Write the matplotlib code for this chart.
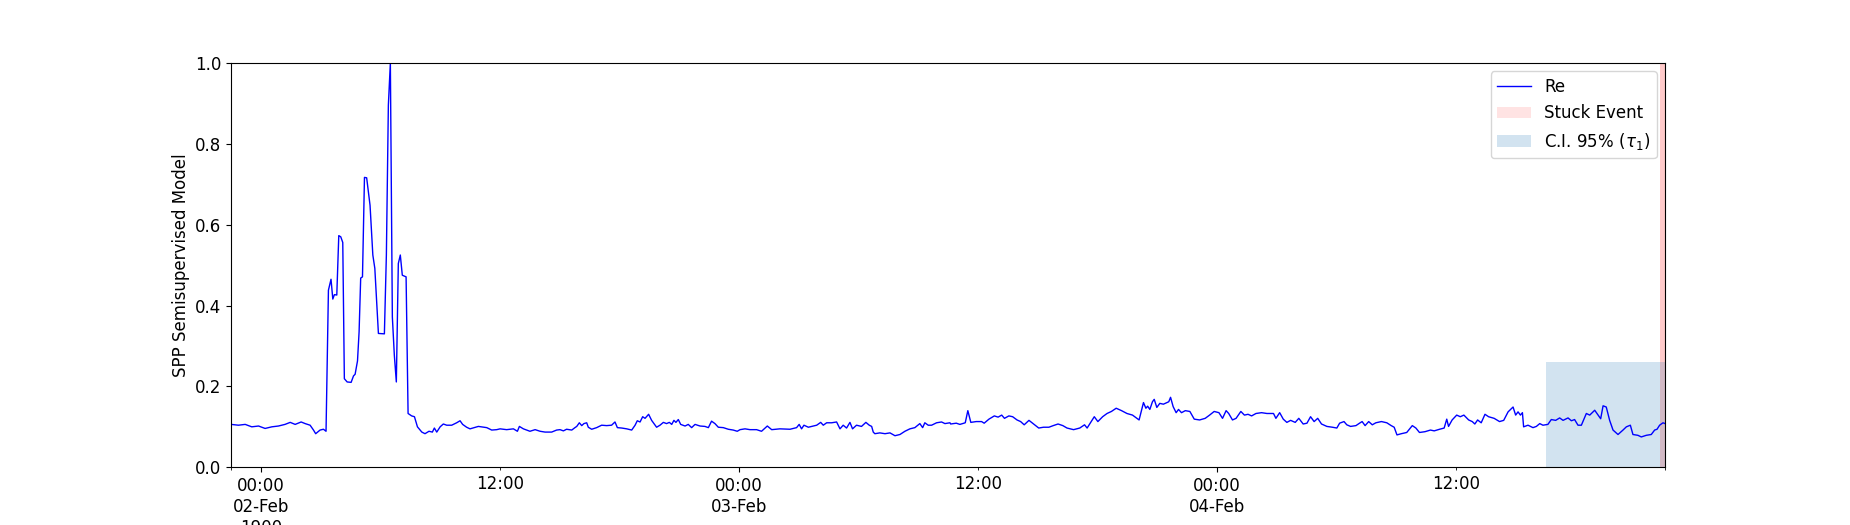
import numpy as np
import matplotlib
matplotlib.use("Agg")
import matplotlib.pyplot as plt
import matplotlib.dates as mdates
from matplotlib.ticker import FixedLocator, FuncFormatter
from datetime import datetime, timedelta

plt.rcParams["font.size"] = 12

# hours relative to 02-Feb 00:00, and model output
hours = [
    -1.50, -1.14, -0.80, -0.47, -0.13, 0.20, 0.54, 0.87, 1.20, 1.46, 1.71, 2.01, 2.21, 2.46, 2.63, 2.74, 2.96, 3.13, 3.26,
    3.38, 3.51, 3.60, 3.68, 3.80, 3.90, 4.00, 4.10, 4.18, 4.32, 4.52, 4.64, 4.72, 4.84, 4.92, 5.00, 5.09, 5.19, 5.30,
    5.47, 5.61, 5.71, 5.89, 6.19, 6.29, 6.39, 6.49, 6.59, 6.69, 6.79, 6.89, 6.99, 7.09, 7.28, 7.38, 7.56, 7.70, 7.85,
    8.07, 8.23, 8.43, 8.60, 8.70, 8.82, 8.99,
    9.15, 9.32, 9.57, 9.82, 9.99, 10.12, 10.32, 10.49, 10.91, 11.33, 11.58, 11.83, 12.00, 12.33, 12.67, 12.87, 12.97,
    13.17, 13.50, 13.76, 14.01, 14.26, 14.59, 14.84, 15.01, 15.18, 15.34, 15.60, 15.76, 15.85, 15.98, 16.10, 16.21,
    16.35, 16.43, 16.60, 16.85, 17.10, 17.35, 17.60, 17.77, 17.89, 18.11, 18.36, 18.61, 18.78, 18.89, 19.03, 19.16,
    19.28, 19.46, 19.61, 19.86, 20.03, 20.20, 20.36, 20.50, 20.62, 20.73, 20.83, 20.95, 21.07, 21.29,
    21.45, 21.62, 21.79, 22.04, 22.29, 22.46, 22.62, 22.79, 22.96, 23.21, 23.46, 23.71, 23.91, 24.05, 24.30, 24.55,
    24.88, 25.13, 25.42, 25.64, 26.05, 26.56, 26.89, 27.02, 27.14, 27.26, 27.48, 27.73, 27.90, 28.10, 28.23, 28.40,
    28.65, 28.90, 29.07, 29.23, 29.40, 29.57, 29.70, 29.90, 30.15, 30.37, 30.54, 30.66, 30.74, 30.82, 31.07, 31.33,
    31.58, 31.83, 32.08, 32.33, 32.58, 32.83, 33.08, 33.22, 33.33, 33.50, 33.67, 33.92, 34.17, 34.34, 34.59,
    34.63, 34.91, 35.09, 35.36, 35.49, 35.64, 35.91, 36.18, 36.31, 36.55, 36.82, 37.01, 37.19, 37.33, 37.55, 37.74,
    37.96, 38.14, 38.32, 38.56, 38.79, 39.05, 39.29, 39.56, 39.78, 40.02, 40.26, 40.47, 40.80, 41.11, 41.35, 41.48,
    41.66, 41.84, 42.02, 42.26, 42.48, 42.70, 42.94, 43.21, 43.48, 43.76, 44.09, 44.21, 44.31, 44.43, 44.52, 44.63,
    44.76, 44.85, 44.98, 45.13, 45.31, 45.49, 45.58, 45.67, 45.80, 45.95, 46.07, 46.22, 46.41, 46.64, 46.86, 47.13,
    47.41, 47.63, 47.86, 48.10, 48.28, 48.46, 48.59, 48.78, 48.96, 49.20, 49.38, 49.56, 49.74, 49.96, 50.24, 50.51,
    50.84, 50.96, 51.15, 51.33, 51.51, 51.70, 51.93, 52.11, 52.33, 52.52, 52.70, 52.88, 53.06, 53.25, 53.52, 53.80,
    54.02, 54.16, 54.38, 54.52, 54.71, 54.98, 55.16, 55.29, 55.44, 55.62, 55.80, 55.98, 56.26, 56.53, 56.75, 56.90,
    57.04, 57.26, 57.53, 57.81, 57.99, 58.17, 58.45, 58.72, 58.91, 59.18, 59.41, 59.54, 59.63, 59.81, 60.04, 60.22,
    60.40, 60.64, 60.82, 60.95, 61.09, 61.27, 61.46, 61.64, 61.92, 62.19,
    62.40, 62.62, 62.87, 63.00, 63.12, 63.24, 63.34, 63.40, 63.62, 63.87, 64.04, 64.21, 64.37, 64.62, 64.79, 65.01,
    65.21, 65.38, 65.63, 65.80, 65.96, 66.13, 66.30, 66.55, 66.72, 66.97, 67.14, 67.27, 67.39, 67.55, 67.72, 67.89,
    68.14, 68.39, 68.56, 68.76, 68.89, 69.14, 69.31, 69.56, 69.81, 69.98, 70.10, 70.23, 70.40, 70.50,
]
values = [
    0.106, 0.104, 0.106, 0.100, 0.102, 0.096, 0.100, 0.102, 0.106, 0.111, 0.106, 0.112, 0.108, 0.104, 0.092, 0.083, 0.092, 0.094, 0.089,
    0.438, 0.465, 0.416, 0.427, 0.426, 0.573, 0.570, 0.556, 0.219, 0.211, 0.210, 0.226, 0.230, 0.263, 0.335, 0.468, 0.471, 0.717, 0.716,
    0.648, 0.525, 0.492, 0.331, 0.330, 0.525, 0.896, 1.000, 0.372, 0.277, 0.211, 0.504, 0.525, 0.475, 0.471, 0.133, 0.127, 0.125, 0.100,
    0.087, 0.083, 0.089, 0.087, 0.097, 0.087, 0.100,
    0.107, 0.104, 0.104, 0.110, 0.115, 0.106, 0.099, 0.095, 0.101, 0.098, 0.092, 0.093, 0.095, 0.093, 0.095, 0.089, 0.101,
    0.095, 0.089, 0.093, 0.089, 0.087, 0.087, 0.092, 0.093, 0.090, 0.094, 0.092, 0.098, 0.101, 0.110, 0.103, 0.108,
    0.110, 0.099, 0.094, 0.098, 0.104, 0.103, 0.104, 0.112, 0.098, 0.097, 0.095, 0.092, 0.104, 0.115, 0.112, 0.125,
    0.121, 0.131, 0.116, 0.099, 0.104, 0.111, 0.108, 0.111, 0.106, 0.116, 0.111, 0.118, 0.106, 0.102,
    0.106, 0.098, 0.106, 0.102, 0.101, 0.098, 0.114, 0.108, 0.099, 0.098, 0.094, 0.092, 0.089, 0.093, 0.095, 0.093,
    0.093, 0.089, 0.102, 0.093, 0.095, 0.094, 0.098, 0.106, 0.095, 0.104, 0.099, 0.102, 0.104, 0.111, 0.104, 0.110,
    0.110, 0.112, 0.095, 0.104, 0.097, 0.111, 0.095, 0.104, 0.101, 0.111, 0.104, 0.101, 0.087, 0.083, 0.085, 0.083,
    0.085, 0.078, 0.081, 0.089, 0.095, 0.098, 0.108, 0.098, 0.110, 0.104, 0.104, 0.110, 0.112, 0.108, 0.110,
    0.107, 0.109, 0.106, 0.110, 0.140, 0.111, 0.113, 0.113, 0.109, 0.119, 0.127, 0.124, 0.129, 0.121, 0.127, 0.125,
    0.117, 0.113, 0.105, 0.116, 0.107, 0.097, 0.099, 0.099, 0.103, 0.107, 0.103, 0.097, 0.093, 0.097, 0.105, 0.097,
    0.111, 0.125, 0.113, 0.125, 0.133, 0.138, 0.146, 0.140, 0.133, 0.129, 0.117, 0.141, 0.160, 0.146, 0.151, 0.143,
    0.162, 0.168, 0.148, 0.158, 0.156, 0.160, 0.162, 0.173, 0.150, 0.135, 0.143, 0.135, 0.140, 0.138, 0.119, 0.117,
    0.121, 0.129, 0.138, 0.135, 0.121, 0.140, 0.133, 0.117, 0.121, 0.138, 0.129, 0.131, 0.127, 0.133, 0.135, 0.133,
    0.133, 0.121, 0.135, 0.119, 0.111, 0.116, 0.111, 0.121, 0.107, 0.109, 0.125, 0.113, 0.121, 0.107, 0.101, 0.099,
    0.097, 0.109, 0.113, 0.105, 0.101, 0.103, 0.109, 0.113, 0.103, 0.113, 0.105, 0.110, 0.113, 0.110, 0.103, 0.099,
    0.080, 0.083, 0.086, 0.103, 0.097, 0.086, 0.088, 0.092, 0.090, 0.094, 0.097, 0.119, 0.101, 0.117, 0.129, 0.125,
    0.129, 0.117, 0.113, 0.107, 0.117, 0.110, 0.131, 0.125, 0.121, 0.113,
    0.116, 0.137, 0.149, 0.129, 0.137, 0.129, 0.135, 0.100, 0.104, 0.098, 0.101, 0.108, 0.104, 0.106, 0.118, 0.116,
    0.122, 0.116, 0.122, 0.115, 0.118, 0.104, 0.104, 0.133, 0.129, 0.141, 0.129, 0.120, 0.152, 0.149, 0.116, 0.092,
    0.081, 0.092, 0.100, 0.104, 0.081, 0.079, 0.075, 0.079, 0.081, 0.092, 0.094, 0.104, 0.110, 0.108,
]

base = datetime(1900, 2, 2)
stuck_start, stuck_end = 70.25, 70.50   # hours
ci_start, ci_end, ci_upper = 64.50, 70.50, 0.26

times = [base + timedelta(hours=h) for h in hours]

fig = plt.figure(figsize=(18.5, 5.25), dpi=100)
ax = fig.add_subplot(111)

ax.plot(times, values, color="blue", lw=1, label="Re")
ax.axvspan(base + timedelta(hours=stuck_start), base + timedelta(hours=stuck_end),
           color="red", alpha=0.11, lw=0, label="Stuck Event")
ax.axvspan(base + timedelta(hours=stuck_start), base + timedelta(hours=stuck_end),
           color="red", alpha=0.11, lw=0)
ax.fill_between([base + timedelta(hours=ci_start), base + timedelta(hours=ci_end)], 0, ci_upper,
                color="tab:blue", alpha=0.2, lw=0, label=r"C.I. 95% ($\tau_1$)")

ax.set_xlim(times[0], times[-1])
ax.set_ylim(0, 1)
ax.set_ylabel("SPP Semisupervised Model")

# pandas-like date ticks
majors = [mdates.date2num(base + timedelta(days=d)) for d in range(3)]
minors = [mdates.date2num(times[0])] + \
         [mdates.date2num(base + timedelta(hours=12 + 24 * d)) for d in range(3)] + \
         [mdates.date2num(times[-1])]


def major_fmt(x, pos):
    d = mdates.num2date(x)
    s = d.strftime("%H:%M\n%d-%b")
    if pos == 0:
        s += "\n%d" % d.year
    return s


def minor_fmt(x, pos):
    d = mdates.num2date(x)
    if d.hour == 12 and d.minute == 0:
        return "12:00"
    return ""


ax.xaxis.set_major_locator(FixedLocator(majors))
ax.xaxis.set_major_formatter(FuncFormatter(major_fmt))
ax.xaxis.set_minor_locator(FixedLocator(minors))
ax.xaxis.set_minor_formatter(FuncFormatter(minor_fmt))

ax.legend(loc="upper right")

plt.savefig("out.png")
